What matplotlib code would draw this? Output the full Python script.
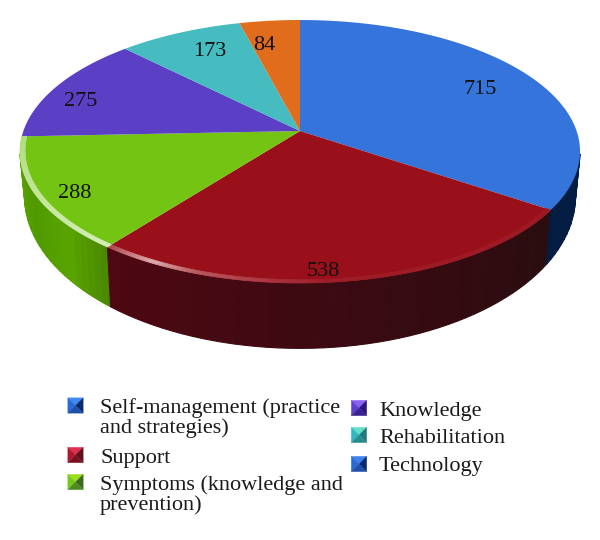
import numpy as np
import matplotlib
matplotlib.use("Agg")
import matplotlib.pyplot as plt
from matplotlib.colors import to_rgb

# pie values, clockwise from 12 o'clock
values = [715, 538, 288, 275, 173, 84]
top_colors = ["#3474DB", "#990F1A", "#74C414", "#5B3FC4", "#46BCC0", "#E06C1C"]

legend_col1 = ["Self-management (practice\nand strategies)", "Support",
               "Symptoms (knowledge and\nprevention)"]
legend_col2 = ["Knowledge", "Rehabilitation", "Technology"]
# marker faces: top, left, right, bottom
col1_faces = [("#3F8CF0", "#2A6AD8", "#0A2A70", "#1F50A8"),
              ("#E03050", "#B01830", "#601018", "#7A1020"),
              ("#9AE020", "#74C818", "#3A6A20", "#4F8A20")]
col2_faces = [("#8A60F0", "#5B3FD0", "#2A1580", "#3A2090"),
              ("#60E0C8", "#30B8C0", "#207A80", "#2A8C90"),
              ("#3F80F0", "#2A6AD8", "#0A2A70", "#1F50A8")]

# side wall colour stops (fraction along the slice -> colour)
wall_stops = {
    0: [(0, "#031C42"), (1, "#031C42")],
    1: [(0, "#2A0D10"), (0.5, "#3A0A12"), (1, "#4E0812")],
    2: [(0, "#4A8A00"), (0.25, "#5AA400"), (0.6, "#4F9A00"), (1, "#5AA000")],
}
# highlight strength on the rim, same idea
rim_stops = {
    1: [(0, 0.04), (0.55, 0.06), (0.8, 0.3), (0.9, 0.65), (1, 0.25)],
    2: [(0, 0.7), (0.6, 0.55), (1, 0.45)],
}

# perspective of the disc, in pixels
CX, CY = 300, 131
K = 0.156


def rim(t, r=1.0, a=128.3, b=276.6, y0=CY):
    t = np.radians(t)
    u, v = r * np.sin(t), -r * np.cos(t)
    w = 1 - K * v
    return CX + b * u / w, y0 + a * v / w


def rim_low(t):
    return rim(t, a=148, b=272, y0=173)


def mix(stops, f):
    pos = [s[0] for s in stops]
    cols = np.array([to_rgb(s[1]) for s in stops])
    return [np.interp(f, pos, cols[:, i]) for i in range(3)]


fig = plt.figure(figsize=(6, 5.4), dpi=100)
ax = fig.add_axes([0, 0, 1, 1])
ax.set_xlim(0, 600)
ax.set_ylim(540, 0)
ax.axis("off")

edges = np.cumsum([0] + values) / sum(values) * 360

# side walls, strips so the shading can change along the slice
# only the front part shows, the back would peek out behind the top
for i, stops in wall_stops.items():
    t0, t1 = np.clip([edges[i], edges[i + 1]], 100, 260)
    n = int((t1 - t0) / 2) + 2
    ts = np.linspace(t0, t1, n)
    for j in range(n - 1):
        x1, y1 = rim(np.linspace(ts[j], ts[j + 1], 6))
        x2, y2 = rim_low(np.linspace(ts[j], ts[j + 1], 6))
        c = mix(stops, j / max(n - 2, 1))
        ax.fill(np.r_[x1, x2[::-1]], np.r_[y1, y2[::-1]], color=c, lw=0.8, zorder=1 + j * 1e-3)

# top of the pie
for i, c in enumerate(top_colors):
    ts = np.linspace(edges[i], edges[i + 1], 100)
    x, y = rim(ts)
    ax.fill(np.r_[CX, x], np.r_[CY, y], color=c, lw=0, zorder=2)

# light band along the front rim
for i, stops in rim_stops.items():
    n = int((edges[i + 1] - edges[i])) + 2
    ts = np.linspace(edges[i], edges[i + 1], n)
    pos = [s[0] for s in stops]
    al = [s[1] for s in stops]
    base = np.array(to_rgb(top_colors[i]))
    for j in range(n - 1):
        x1, y1 = rim(ts[j:j + 2])
        x2, y2 = rim(ts[j:j + 2], r=0.982)
        f = np.interp(j / (n - 2), pos, al)
        c = base + (1 - base) * f
        ax.fill(np.r_[x1, x2[::-1]], np.r_[y1, y2[::-1]], color=c, lw=0.5, zorder=3)

# value labels
label_xy = [(480, 89), (323, 272), (75, 194), (81, 101), (210, 51), (264, 46)]
for v, (x, y) in zip(values, label_xy):
    ax.text(x, y, str(v), fontsize=16, family="Liberation Serif", color="#111111",
            ha="center", va="center", zorder=5)


def marker(cx, cy, faces, s=7.7):
    c = (cx, cy)
    tl, tr, bl, br = (cx - s, cy - s), (cx + s, cy - s), (cx - s, cy + s), (cx + s, cy + s)
    for tri, col in zip([(tl, tr, c), (tl, bl, c), (tr, br, c), (bl, br, c)], faces):
        ax.fill(*zip(*tri), color=col, lw=0.2, zorder=4)


col1_marker_y = [405.5, 455, 482]
col1_text_y = [413, 463, 490]
col2_marker_y = [408, 435, 464]
col2_text_y = [416, 443, 471]

for name, f, my, ty in zip(legend_col1, col1_faces, col1_marker_y, col1_text_y):
    marker(75.5, my, f)
    for k, line in enumerate(name.split("\n")):
        ax.text(100, ty + 20 * k, line, fontsize=16, family="Liberation Serif",
                color="#1a1a1a", va="baseline", ha="left")

for name, f, my, ty in zip(legend_col2, col2_faces, col2_marker_y, col2_text_y):
    marker(359, my, f)
    ax.text(379, ty, name, fontsize=16, family="Liberation Serif",
            color="#1a1a1a", va="baseline", ha="left")

fig.savefig("out.png", dpi=100)
